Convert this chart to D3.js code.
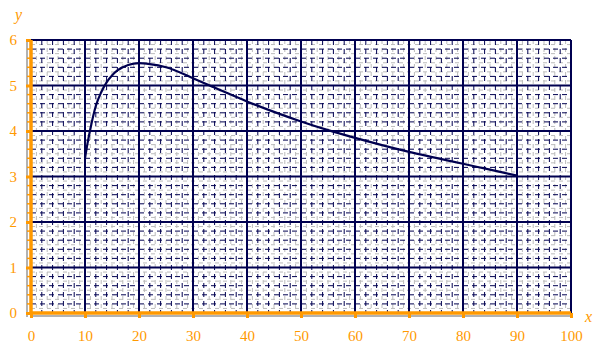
<!DOCTYPE html>
<html>
<head>
<meta charset="utf-8">
<script src="https://cdn.jsdelivr.net/npm/d3@7"></script>
<style>
  body { margin: 0; background: #fff; }
  svg { display: block; }
</style>
</head>
<body>
<svg id="chart" width="602" height="344"></svg>
<script>
var xs = [10, 10.5, 11, 12, 13, 14, 15, 16, 18, 20, 22, 25, 30, 35, 40, 45, 50, 55, 60, 65, 70, 75, 80, 85, 90];
var ys = [3.4, 3.75, 4.05, 4.55, 4.85, 5.07, 5.22, 5.33, 5.45, 5.49, 5.47, 5.4, 5.16, 4.9, 4.65, 4.42, 4.21, 4.02, 3.85, 3.69, 3.54, 3.41, 3.28, 3.15, 3.02];
var xTicks = [0, 10, 20, 30, 40, 50, 60, 70, 80, 90, 100];
var yTicks = [0, 1, 2, 3, 4, 5, 6];

var svg = d3.select("#chart");
var orange = "#f90";
var navy = "#000050";

var x = d3.scaleLinear().domain([0, 100]).range([31, 571]);
var y = d3.scaleLinear().domain([0, 6]).range([313, 40]);

var g = svg.append("g");

// fine grey dashed grid
g.selectAll("line.gx").data(d3.range(1, 100, 2)).enter().append("line")
  .attr("x1", d => x(d)).attr("x2", d => x(d)).attr("y1", y(6)).attr("y2", y(0))
  .attr("stroke", "#bbb").attr("stroke-width", 1).attr("stroke-dasharray", "4,4");
g.selectAll("line.gy").data(d3.range(1, 60, 2).map(d => d / 10)).enter().append("line")
  .attr("y1", d => y(d)).attr("y2", d => y(d)).attr("x1", x(0)).attr("x2", x(100))
  .attr("stroke", "#bbb").attr("stroke-width", 1).attr("stroke-dasharray", "4,4");

// navy dashed grid
g.selectAll("line.nx").data(d3.range(2, 100, 2).filter(d => d % 10 != 0)).enter().append("line")
  .attr("x1", d => x(d)).attr("x2", d => x(d)).attr("y1", y(6)).attr("y2", y(0))
  .attr("stroke", navy).attr("stroke-width", 1).attr("stroke-dasharray", "5,4");
g.selectAll("line.ny").data(d3.range(2, 60, 2).filter(d => d % 10 != 0).map(d => d / 10)).enter().append("line")
  .attr("y1", d => y(d)).attr("y2", d => y(d)).attr("x1", x(0)).attr("x2", x(100))
  .attr("stroke", navy).attr("stroke-width", 1).attr("stroke-dasharray", "5,4");

// major solid grid
g.selectAll("line.mx").data(xTicks.slice(1)).enter().append("line")
  .attr("x1", d => x(d)).attr("x2", d => x(d)).attr("y1", y(6)).attr("y2", y(0))
  .attr("stroke", navy).attr("stroke-width", 2);
g.selectAll("line.my").data(yTicks.slice(1)).enter().append("line")
  .attr("y1", d => y(d)).attr("y2", d => y(d)).attr("x1", x(0)).attr("x2", x(100))
  .attr("stroke", navy).attr("stroke-width", 2);

// curve
var line = d3.line().x((d, i) => x(xs[i])).y((d, i) => y(ys[i])).curve(d3.curveMonotoneX);
svg.append("path").datum(ys)
  .attr("fill", "none").attr("stroke", navy).attr("stroke-width", 2.2)
  .attr("d", line);

// grey shadow of axes
svg.append("line").attr("x1", x(0) - 4).attr("x2", x(0) - 4).attr("y1", y(6)).attr("y2", y(0) + 4)
  .attr("stroke", "#999").attr("stroke-width", 1.5);
svg.append("line").attr("x1", x(0)).attr("x2", x(100)).attr("y1", y(0) + 3).attr("y2", y(0) + 3)
  .attr("stroke", "#999").attr("stroke-width", 1.5);

// axes
var xAxis = d3.axisBottom(x).tickValues(xTicks).tickSize(5).tickPadding(12).tickFormat(d3.format("d"));
var gx = svg.append("g").attr("transform", "translate(0," + y(0) + ")").call(xAxis);
var yAxis = d3.axisLeft(y).tickValues(yTicks).tickSize(5).tickPadding(9).tickFormat(d3.format("d"));
var gy = svg.append("g").attr("transform", "translate(" + x(0) + ",0)").call(yAxis);

[gx, gy].forEach(function(a) {
  a.select(".domain").attr("stroke", orange).attr("stroke-width", 3.5);
  a.selectAll(".tick line").attr("stroke", orange).attr("stroke-width", 3);
  a.selectAll(".tick text").attr("fill", orange)
    .style("font-family", "'Liberation Serif', serif").style("font-size", "15px");
});
gx.select(".domain").attr("d", "M" + x(0) + ",0H" + x(100));
gy.select(".domain").attr("d", "M0," + y(0) + "V" + y(6));

// minor orange ticks on y axis
svg.selectAll("line.yt").data(d3.range(1, 30).filter(d => d % 5 != 0).map(d => d / 5)).enter().append("line")
  .attr("x1", x(0) - 4).attr("x2", x(0)).attr("y1", d => y(d)).attr("y2", d => y(d))
  .attr("stroke", orange).attr("stroke-width", 1.5);

// axis names
svg.append("text").attr("x", 585).attr("y", 322).text("x")
  .attr("fill", orange).style("font-family", "'Liberation Serif', serif")
  .style("font-style", "italic").style("font-size", "16px");
svg.append("text").attr("x", 15).attr("y", 20).text("y")
  .attr("fill", orange).style("font-family", "'Liberation Serif', serif")
  .style("font-style", "italic").style("font-size", "16px");
</script>
</body>
</html>
